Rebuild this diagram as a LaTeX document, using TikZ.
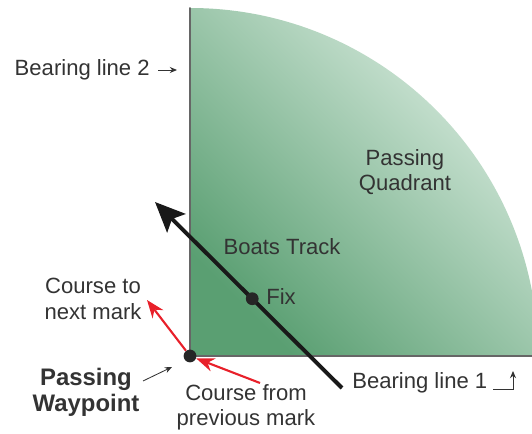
\documentclass[tikz,border=0pt]{standalone}
\usepackage{fontspec}
\setmainfont{Liberation Sans}
\usepackage{tkz-euclide}
\usetikzlibrary{arrows.meta}
\definecolor{quadDark}{HTML}{5A9F72}
\definecolor{quadMid}{HTML}{A2CFB3}
\definecolor{quadLight}{HTML}{DCEDE2}
\definecolor{edgeGray}{HTML}{666666}
\definecolor{txtGray}{HTML}{333333}
\definecolor{courseRed}{HTML}{E8202A}
\tikzset{
    lbl/.style={font=\fontsize{15.7}{18}\selectfont, text=txtGray,
                align=center, inner sep=0pt},
    wptdot/.style={circle, fill=black!85, inner sep=0pt, minimum size=3.2mm},
    pointer/.style={-{Stealth[length=1.8mm,width=1.5mm]}, line width=0.6pt,
                    black!80},
    course/.style={-{Stealth[length=4.5mm,width=3.4mm]}, line width=1.5pt,
                   courseRed}
}

\begin{document}
\begin{tikzpicture}[scale=1]
            \useasboundingbox (0,0) rectangle (13.3,10.85);
            \tkzDefPoints{4.75/1.95/O, 4.75/10.65/P, 13.3/1.95/Q,
                          8.55/1.15/S, 3.875/5.8/N, 6.5/1.275/R, 3.675/3.35/M,
                          3.575/1.325/A, 4.3/1.675/B, 3.95/9.1/C, 4.425/9.1/D,
                          12.325/1.125/E, 12.825/1.125/F, 12.825/1.575/G}
            \begin{scope}
            \clip (0,0) rectangle (13.3,10.85);
            \shade[left color=quadLight, middle color=quadMid,
                   right color=quadDark, shading angle=-45]
                (O) -- (P) arc (90:0:8.7) -- cycle;
            \end{scope}
            \tkzDrawSegment[edgeGray, line width=1.4pt](O,P)
            \tkzDrawSegment[edgeGray, line width=1.4pt](O,Q)
            \draw[line width=2.8pt, black!90,
                  -{Stealth[length=7.5mm,width=6.5mm,inset=1.5mm]}] (S) -- (N)
                node[pos=0.48, wptdot] (fix) {};
            \node[wptdot] (wpt) at (O) {};
            \draw[course] (wpt) -- (M);
            \draw[course] (R) -- (wpt);
            \node[lbl, anchor=east] (bl2) at (3.75,9.1) {Bearing line 2};
            \node[lbl] (quad) at (10.125,6.55) {Passing\\Quadrant};
            \node[lbl] (track) at (7.05,4.675) {Boats Track};
            \node[lbl, anchor=west] (fixlbl) at (6.65,3.425) {Fix};
            \node[lbl] (next) at (2.325,3.375) {Course to\\next mark};
            \node[lbl, font=\fontsize{17}{18}\selectfont\bfseries] (wplbl)
                at (2.15,1.04) {Passing\\Waypoint};
            \node[lbl] (prev) at (6.15,0.675) {Course from\\previous mark};
            \node[lbl, anchor=west] (bl1) at (8.8,1.275) {Bearing line 1};
            \draw[pointer] (C) -- (D);
            \draw[pointer] (A) -- (B);
            \draw[pointer] (E) -- (F) -- (G);
        \end{tikzpicture}
\end{document}
